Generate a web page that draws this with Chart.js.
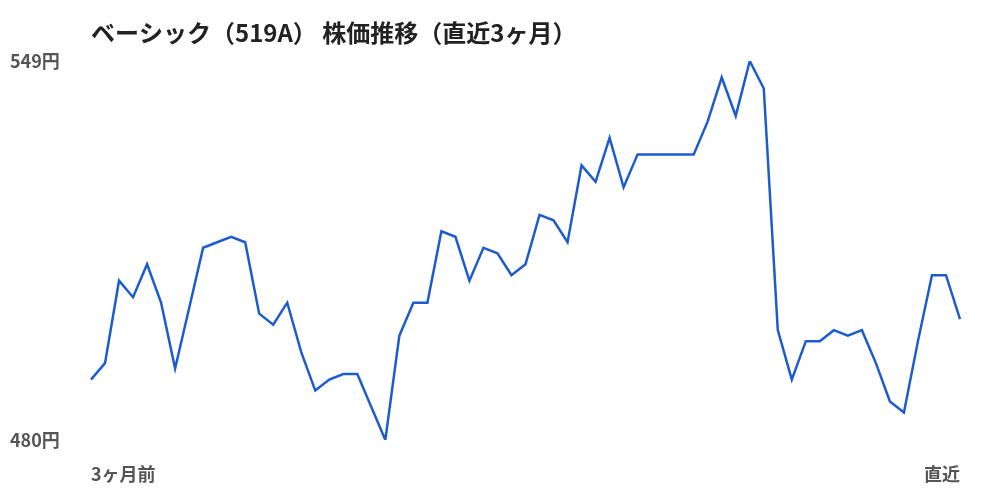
<!DOCTYPE html>
<html lang="ja">
<head>
<meta charset="utf-8">
<title>ベーシック（519A） 株価推移</title>
<script src="https://cdn.jsdelivr.net/npm/chart.js@4.4.1/dist/chart.umd.min.js"></script>
<style>
    html, body { margin: 0; padding: 0; background: #fff; }
    #wrap { width: 1000px; height: 500px; }
</style>
</head>
<body>
<div id="wrap"><canvas id="priceChart" width="1000" height="500"></canvas></div>
<script>
// 終値（直近3ヶ月）
const prices = [
    491, 494, 509, 506, 512, 505, 493, 504, 515, 516,
    517, 516, 503, 501, 505, 496, 489, 491, 492, 492,
    486, 480, 499, 505, 505, 518, 517, 509, 515, 514,
    510, 512, 521, 520, 516, 530, 527, 535, 526, 532,
    532, 532, 532, 532, 538, 546, 539, 549, 544, 500,
    491, 498, 498, 500, 499, 500, 494, 487, 485, 498,
    510, 510, 502
];
const startLabel = '3ヶ月前';
const endLabel = '直近';
const yTicks = [480, 549];
const chartTitle = 'ベーシック（519A） 株価推移（直近3ヶ月）';

document.addEventListener("DOMContentLoaded", function () {
    const last = prices.length - 1;
    const labels = prices.map((_, i) => i === 0 ? startLabel : (i === last ? endLabel : ''));
    const font = "'Noto Sans CJK JP', 'Noto Sans', sans-serif";

    const ctx = document.getElementById('priceChart').getContext('2d');
    new Chart(ctx, {
        type: 'line',
        data: {
            labels: labels,
            datasets: [{
                data: prices,
                borderColor: '#1d5ccf',
                borderWidth: 2.5,
                tension: 0,
                pointRadius: 0,
                fill: false
            }]
        },
        options: {
            responsive: false,
            animation: false,
            layout: { padding: { left: 10, right: 40, top: 10, bottom: 16 } },
            plugins: {
                legend: { display: false },
                tooltip: { enabled: false },
                title: {
                    display: true,
                    text: chartTitle,
                    align: 'start',
                    fullSize: false,
                    color: '#222',
                    font: { family: font, size: 24, weight: 'bold', lineHeight: 1.2 },
                    padding: { top: 8.6, bottom: 13.6 }
                }
            },
            scales: {
                x: {
                    grid: { display: false, drawTicks: false },
                    border: { display: false },
                    afterFit: function (axis) {
                        axis.height = 44;
                    },
                    ticks: {
                        autoSkip: false,
                        maxRotation: 0,
                        align: 'inner',
                        padding: 23,
                        color: '#555',
                        font: { family: font, size: 18, weight: 'bold' }
                    }
                },
                y: {
                    min: yTicks[0],
                    max: yTicks[1],
                    grid: { display: false, drawTicks: false },
                    border: { display: false },
                    afterBuildTicks: function (axis) {
                        axis.ticks = yTicks.map(v => ({ value: v }));
                    },
                    afterFit: function (axis) {
                        axis.width = 81;
                    },
                    ticks: {
                        crossAlign: 'far',
                        color: '#555',
                        font: { family: font, size: 18, weight: 'bold' },
                        callback: function (value) {
                            return value + '円';
                        }
                    }
                }
            }
        }
    });
});
</script>
</body>
</html>
